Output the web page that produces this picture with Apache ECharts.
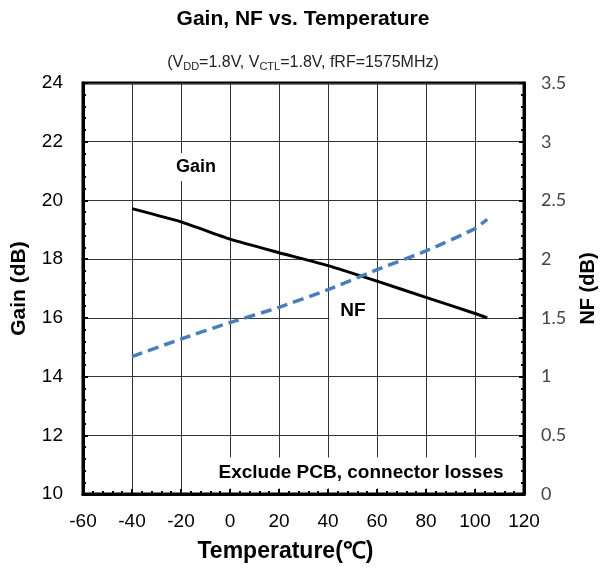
<!DOCTYPE html>
<html>
<head>
<meta charset="utf-8">
<script src="https://cdn.jsdelivr.net/npm/echarts@6/dist/echarts.min.js"></script>
<style>
  html, body { margin: 0; padding: 0; background: #fff; }
  #chart { width: 606px; height: 572px; }
</style>
</head>
<body>
<div id="chart"></div>
<script>
// temperature points (°C)
var temps = [-40, -20, 0, 20, 40, 60, 80, 100, 105];
// Gain (dB), left axis
var gainVals = [19.72, 19.27, 18.68, 18.22, 17.78, 17.25, 16.7, 16.15, 16.0];
// NF (dB), right axis
var nfVals = [1.17, 1.32, 1.46, 1.59, 1.74, 1.91, 2.07, 2.26, 2.34];

var font = 'Liberation Sans, Arial, sans-serif';

var myChart = echarts.init(document.getElementById('chart'));

function pairs(xs, ys) {
    return xs.map(function (x, i) { return [x, ys[i]]; });
}

// shared look of the frame ticks
var tickStyle = { show: true, inside: true, length: 5, lineStyle: { color: '#000', width: 2 } };
var minorStyle = { show: true, splitNumber: 5, length: 3, lineStyle: { color: '#000', width: 2 } };

var option = {
    animation: false,
    title: [{
        text: 'Gain, NF vs. Temperature',
        left: 'center',
        top: 4,
        textStyle: { fontFamily: font, fontSize: 21, fontWeight: 'bold', color: '#000' }
    }, {
        text: '(V{s|DD}=1.8V, V{s|CTL}=1.8V, fRF=1575MHz)',
        left: 'center',
        top: 49,
        textStyle: {
            fontFamily: font, fontSize: 16, fontWeight: 'normal', color: '#222',
            rich: { s: { fontFamily: font, fontSize: 11, color: '#222', verticalAlign: 'bottom', padding: [7, 0, 0, 0] } }
        }
    }],
    grid: {
        left: 83, right: 81, top: 83, bottom: 78,
        show: true, borderColor: '#000', borderWidth: 3
    },
    xAxis: {
        type: 'value',
        min: -60, max: 120, interval: 20,
        name: 'Temperature(℃)',
        nameLocation: 'middle',
        nameGap: 46,
        nameTextStyle: { fontFamily: font, fontSize: 23, fontWeight: 'bold', color: '#000', padding: [0, 36, 0, 0] },
        axisLine: { show: true, onZero: false, lineStyle: { color: '#000', width: 3 } },
        axisTick: tickStyle,
        minorTick: minorStyle,
        axisLabel: { fontFamily: font, fontSize: 19, color: '#000', margin: 18 },
        splitLine: { show: true, lineStyle: { color: '#333', width: 1 } }
    },
    yAxis: [{
        type: 'value',
        min: 10, max: 24, interval: 2,
        name: 'Gain (dB)',
        nameLocation: 'middle',
        nameGap: 53,
        nameTextStyle: { fontFamily: font, fontSize: 21, fontWeight: 'bold', color: '#000' },
        axisLine: { show: true, onZero: false, lineStyle: { color: '#000', width: 3 } },
        axisTick: tickStyle,
        minorTick: minorStyle,
        axisLabel: { fontFamily: font, fontSize: 19, color: '#000', margin: 20 },
        splitLine: { show: true, lineStyle: { color: '#333', width: 1 } }
    }, {
        type: 'value',
        min: 0, max: 3.5, interval: 0.5,
        name: 'NF (dB)',
        nameLocation: 'middle',
        nameGap: 54,
        nameRotate: 90,
        nameTextStyle: { fontFamily: font, fontSize: 20, fontWeight: 'bold', color: '#000' },
        axisLine: { show: true, onZero: false, lineStyle: { color: '#000', width: 3 } },
        axisTick: tickStyle,
        minorTick: minorStyle,
        axisLabel: { fontFamily: 'Lato, sans-serif', fontSize: 18, color: '#444', margin: 17 },
        splitLine: { show: false }
    }],
    series: [{
        name: 'Gain',
        type: 'line',
        yAxisIndex: 0,
        data: pairs(temps, gainVals),
        showSymbol: false,
        smooth: 0.2,
        lineStyle: { color: '#000', width: 3 },
        z: 3
    }, {
        name: 'NF',
        type: 'line',
        yAxisIndex: 1,
        data: pairs(temps, nfVals),
        showSymbol: false,
        smooth: 0.2,
        lineStyle: { color: '#4a7ebb', width: 3.5, type: [11, 6] },
        z: 3
    }],
    graphic: [{
        type: 'text', x: 196, y: 167, z: 2,
        style: { text: 'Gain', font: 'bold 18px ' + font, fill: '#000', align: 'center', verticalAlign: 'middle',
                 backgroundColor: '#fff', padding: [5, 6] }
    }, {
        type: 'text', x: 353, y: 311, z: 2,
        style: { text: 'NF', font: 'bold 19px ' + font, fill: '#000', align: 'center', verticalAlign: 'middle',
                 backgroundColor: '#fff', padding: [6, 11, 8, 11] }
    }, {
        type: 'text', x: 361, y: 473, z: 2,
        style: { text: 'Exclude PCB, connector losses', font: 'bold 19px ' + font, fill: '#000', align: 'center',
                 verticalAlign: 'middle', backgroundColor: '#fff', padding: [10, 12, 2, 12] }
    }]
};

myChart.setOption(option);
</script>
</body>
</html>
